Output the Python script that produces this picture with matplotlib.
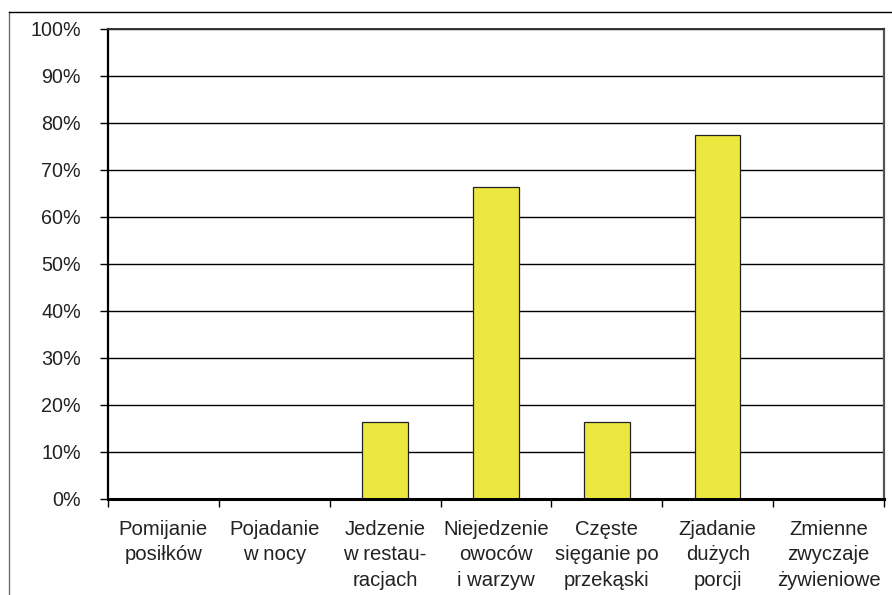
import numpy as np
import matplotlib
matplotlib.use("Agg")
import matplotlib.pyplot as plt
from matplotlib.lines import Line2D

categories = ["Pomijanie\nposiłków", "Pojadanie\nw nocy", "Jedzenie\nw restau-\nracjach",
              "Niejedzenie\nowoców\ni warzyw", "Częste\nsięganie po\nprzekąski",
              "Zjadanie\ndużych\nporcji", "Zmienne\nzwyczaje\nżywieniowe"]
values = [0, 0, 16.3, 66.3, 16.3, 77.4, 0]
yticks = [0, 10, 20, 30, 40, 50, 60, 70, 80, 90, 100]

plt.rcParams['font.family'] = ['Liberation Sans', 'DejaVu Sans']

fig = plt.figure(figsize=(8.92, 5.95), dpi=100)
ax = fig.add_axes([108/892, 1-498.7/595, (884-108)/892, (498.7-29)/595])

x = np.arange(len(categories))
ax.bar(x, values, width=0.41, color="#ede83f", edgecolor="#222222", linewidth=0.9, zorder=3)

ax.set_xlim(-0.5, len(categories)-0.5)
ax.set_ylim(0, 100)
ax.set_yticks(yticks)
ax.set_yticklabels([f"{v}%" for v in yticks])
ax.yaxis.grid(True, color="black", linewidth=1.0, zorder=0)
ax.set_axisbelow(True)

ax.set_xticks(x)
ax.set_xticklabels(categories, linespacing=1.45)
ax.set_xticks(np.arange(len(categories)+1)-0.5, minor=True)
ax.tick_params(axis='x', which='major', length=0, pad=15, labelsize=14.6, labelcolor="#222222")
ax.tick_params(axis='x', which='minor', length=5.5, width=1.0, color="black")
ax.tick_params(axis='y', length=5.5, width=1.0, pad=14, labelsize=14.2, labelcolor="#222222")

ax.spines['left'].set_linewidth(1.6)
ax.spines['bottom'].set_linewidth(2.2)
ax.spines['bottom'].set_zorder(4)
ax.spines['right'].set_color("#555555")
ax.spines['right'].set_linewidth(1.6)
ax.spines['top'].set_color("#333333")
ax.spines['top'].set_linewidth(1.4)

# outer frame of the original figure
fig.add_artist(Line2D([9/892, 9/892], [0, 1-12/595], color="#707070", linewidth=1.0))
fig.add_artist(Line2D([9/892, 1], [1-12/595, 1-12/595], color="black", linewidth=1.0))

fig.savefig("out.png", dpi=100)
